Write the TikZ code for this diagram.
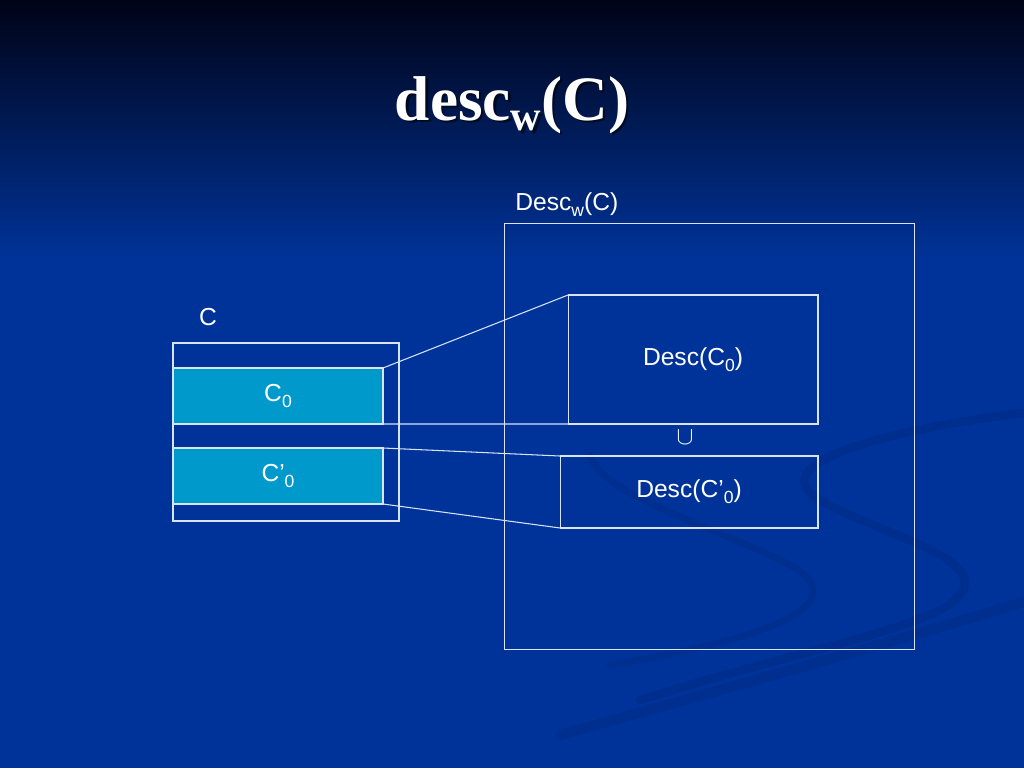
\documentclass[tikz,border=0pt]{standalone}
\usepackage{fontspec}
\setmainfont{Liberation Sans}
\newfontfamily\titlefont{Liberation Serif}
\usetikzlibrary{positioning}
\definecolor{slideblue}{RGB}{0,51,153}
\definecolor{slidetop}{RGB}{0,3,22}
\definecolor{boxline}{RGB}{215,228,250}
\definecolor{setfill}{RGB}{0,153,204}
\definecolor{swoosh}{RGB}{0,40,128}
\newcommand{\lowsub}[1]{\raisebox{-0.45ex}{\fontsize{10}{10}\selectfont #1}}
\newcommand{\slidetitle}{\titlefont\bfseries\fontsize{36}{40}\selectfont
    desc\raisebox{-6pt}{\fontsize{24}{24}\selectfont w}(C)}
\begin{document}
\begin{tikzpicture}[x=0.02cm,y=-0.02cm]
    \tikzset{
        setbox/.style={draw=boxline,line width=0.6pt,inner sep=0pt,outer sep=0pt,
            text=white,font=\fontsize{14}{16}\selectfont},
        partbox/.style={setbox,fill=setfill},
        lbl/.style={text=white,font=\fontsize{14}{16}\selectfont,inner sep=0pt},
        link/.style={draw=boxline,line width=0.6pt},}
    \useasboundingbox (0,0) rectangle (1024,768);
    % slide background
    \fill[slideblue] (0,0) rectangle (1024,768);
    \shade[top color=slidetop,bottom color=slideblue] (0,0) rectangle (1024,260);
    \draw[swoosh,line width=5pt,opacity=0.4,line cap=round]
        (1030,412) .. controls (880,430) and (760,465) .. (820,500)
        .. controls (880,535) and (1000,560) .. (955,600)
        .. controls (920,630) and (800,650) .. (640,700);
    \draw[swoosh,line width=4pt,opacity=0.35,line cap=round]
        (590,455) .. controls (600,500) and (760,540) .. (805,575)
        .. controls (840,610) and (760,640) .. (610,665);
    \draw[swoosh,line width=6pt,opacity=0.35,line cap=round]
        (1030,600) .. controls (900,640) and (720,690) .. (560,735);
    % title
    \node[text=black,opacity=0.55,anchor=base] at (514.5,122.5) {\slidetitle};
    \node[text=white,anchor=base] (title) at (512,120) {\slidetitle};
    % left: C and its parts
    \node[setbox,minimum width=4.52cm,minimum height=3.56cm] (setC) at (286,432) {};
    \node[partbox,minimum width=4.2cm,minimum height=1.12cm] (partA) at (278,396) {C\lowsub{0}};
    \node[partbox,minimum width=4.2cm,minimum height=1.12cm] (partB) at (278,476) {C’\lowsub{0}};
    \node[lbl] (labC) at (208,317) {C};
    % right: Desc_w(C)
    \node[setbox,minimum width=8.22cm,minimum height=8.54cm] (descW) at (709.5,436.5) {};
    \node[lbl,anchor=west] (labW) at (515,205) {Desc\lowsub{w}(C)};
    \node[setbox,minimum width=5cm,minimum height=2.58cm] (descA) at (693,359.5) {Desc(C\lowsub{0})};
    \node[setbox,minimum width=5.16cm,minimum height=1.44cm] (descB) at (689,492) {Desc(C’\lowsub{0})};
    \node[lbl] (union) at (685,437) {$\cup$};
    % connectors
    \draw[link] (partA.north east) -- (descA.north west);
    \draw[link] (partA.south east) -- (descA.south west);
    \draw[link] (partB.north east) -- (descB.north west);
    \draw[link] (partB.south east) -- (descB.south west);
\end{tikzpicture}
\end{document}
